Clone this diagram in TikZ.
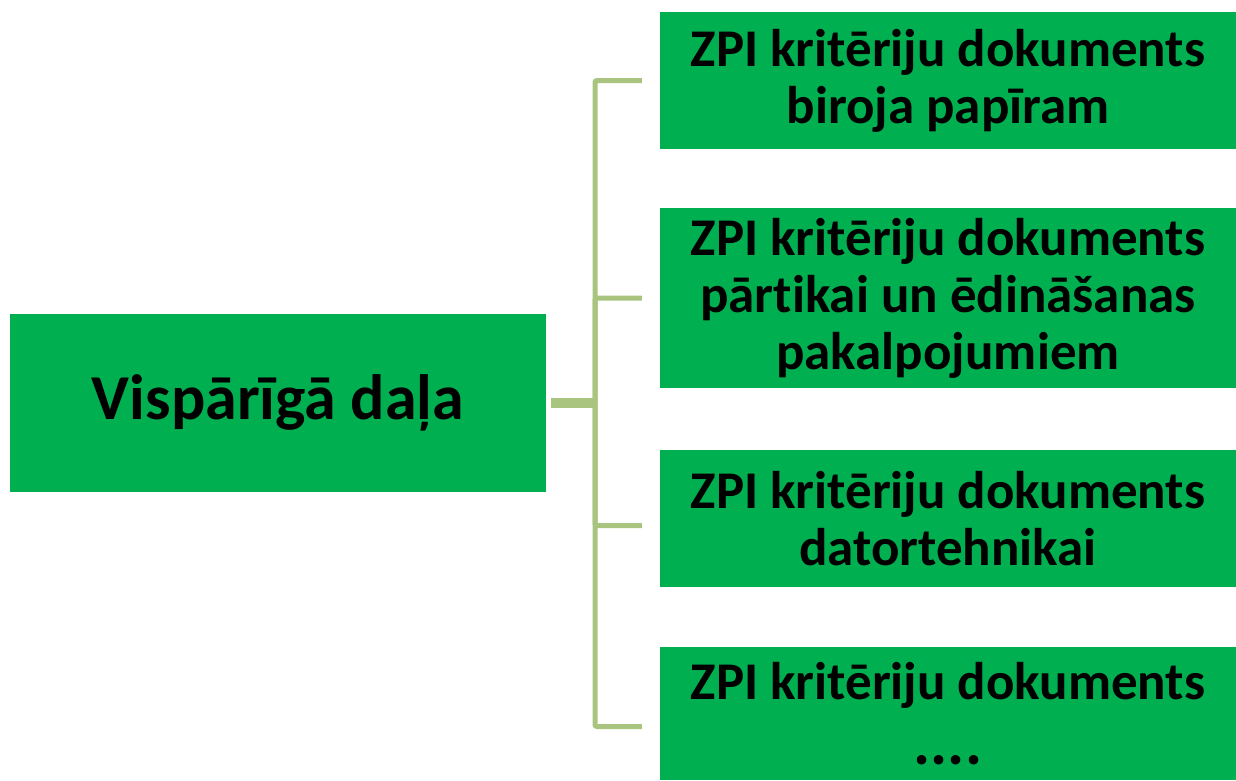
\documentclass[tikz,border=0pt]{standalone}
\usepackage{fontspec}
\setmainfont{Carlito}[Ligatures=NoCommon]
\usepackage{tikz}
\usetikzlibrary{positioning, calc}
\definecolor{boxgreen}{HTML}{00B050}
\definecolor{linegreen}{HTML}{A9C47F}

\begin{document}
\begin{tikzpicture}[x=1pt,y=-1pt,
      main node/.style={rectangle,fill=boxgreen,draw=none,align=center,inner sep=0pt,
        minimum width=576pt,font=\fontsize{53}{57}\selectfont\bfseries},
      branch/.style={draw=linegreen,line width=5pt,rounded corners=2pt}]
  \useasboundingbox (0,0) rectangle (1236,780);
  \node[rectangle,fill=boxgreen,minimum width=536pt,minimum height=178pt,inner sep=0pt,
    font=\fontsize{64}{68}\selectfont\bfseries] (0) at (278,403) {Vispārīgā daļa};
  \node[main node, minimum height=137pt] (1) at (948,80.5) {ZPI kritēriju dokuments\\biroja papīram};
  \node[main node, minimum height=180pt] (2) at (948,298) {ZPI kritēriju dokuments\\pārtikai un ēdināšanas\\pakalpojumiem};
  \node[main node, minimum height=137pt] (3) at (948,518.5) {ZPI kritēriju dokuments\\datortehnikai};
  \node[main node, minimum height=133pt] (4) at (948,713.5) {ZPI kritēriju dokuments\\[8pt]{\fontsize{64}{57}\selectfont ....}};
  \coordinate (bus) at (595,403);
  \draw[draw=linegreen,line width=10pt] ([xshift=5pt]0.east) -- (bus);
  \draw[branch] (bus) |- ([xshift=-18pt]1.west);
  \draw[branch] (bus) |- ([xshift=-18pt]2.west);
  \draw[branch] (bus) |- ([xshift=-18pt,yshift=-7pt]3.west);
  \draw[branch] (bus) |- ([xshift=-18pt,yshift=-13pt]4.west);
\end{tikzpicture}
\end{document}
